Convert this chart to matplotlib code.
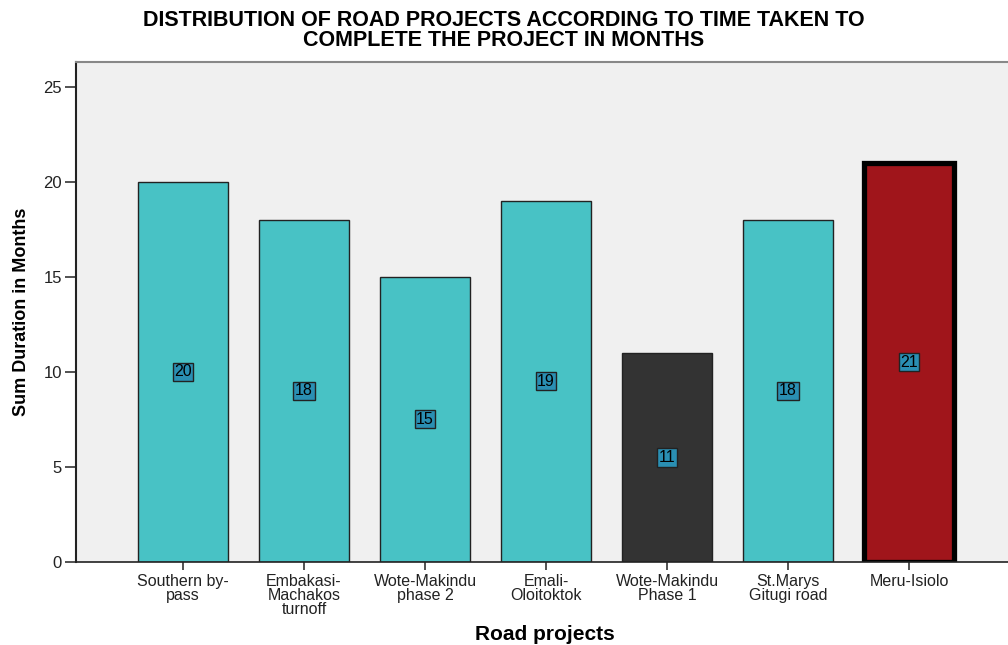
import matplotlib
matplotlib.use("Agg")
import matplotlib.pyplot as plt

plt.rcParams["font.family"] = ["Liberation Sans", "DejaVu Sans"]

# データ
projects = ["Southern by-\npass", "Embakasi-\nMachakos\nturnoff", "Wote-Makindu\nphase 2",
            "Emali-\nOloitoktok", "Wote-Makindu\nPhase 1", "St.Marys\nGitugi road", "Meru-Isiolo"]
months = [20, 18, 15, 19, 11, 18, 21]
bar_colors = ["#48c2c5", "#48c2c5", "#48c2c5", "#48c2c5", "#333333", "#48c2c5", "#a0151b"]
title = "DISTRIBUTION OF ROAD PROJECTS ACCORDING TO TIME TAKEN TO\nCOMPLETE THE PROJECT IN MONTHS"

fig = plt.figure(figsize=(10.08, 6.45), dpi=100)
ax = fig.add_axes([0.0754, 0.1287, 0.93, 0.7752])
ax.set_facecolor("#f0f0f0")

x = range(len(projects))
for i, (m, c) in enumerate(zip(months, bar_colors)):
    if i == len(months) - 1:
        ax.bar(i, m, width=0.75, color=c, edgecolor="black", linewidth=3.8, zorder=2)
    else:
        ax.bar(i, m, width=0.75, color=c, edgecolor="#222222", linewidth=1.0, zorder=2)
    ax.text(i, m / 2, str(m), ha="center", va="center", fontsize=11.5, color="black", zorder=3,
            bbox=dict(boxstyle="square,pad=0.1", facecolor="#2a8fb3", edgecolor="#222222", linewidth=1))

ax.set_xlim(-0.884, 6.863)
ax.set_ylim(0, 26.3)
ax.set_yticks([0, 5, 10, 15, 20, 25])
ax.set_xticks(list(x))
ax.set_xticklabels(projects, fontsize=11.5, color="#222222", linespacing=0.88)
ax.tick_params(axis="y", labelsize=12, labelcolor="#222222", length=8, width=1.2, color="#333333", pad=2)
ax.tick_params(axis="x", length=6, width=1.2, color="#333333", pad=3)

ax.spines["right"].set_visible(False)
ax.spines["top"].set_color("#888888")
ax.spines["top"].set_linewidth(1.5)
ax.spines["left"].set_color("#222222")
ax.spines["left"].set_linewidth(1.5)
ax.spines["bottom"].set_color("#222222")
ax.spines["bottom"].set_linewidth(1.2)

ax.set_ylabel("Sum Duration in Months", fontsize=13, fontweight="bold", labelpad=10)
ax.set_xlabel("Road projects", fontsize=15, fontweight="bold", labelpad=6)

fig.text(0.5, 1 - 10 / 645, title, ha="center", va="top", fontsize=15.5, fontweight="bold",
         linespacing=0.93)

fig.savefig("out.png", dpi=100)
